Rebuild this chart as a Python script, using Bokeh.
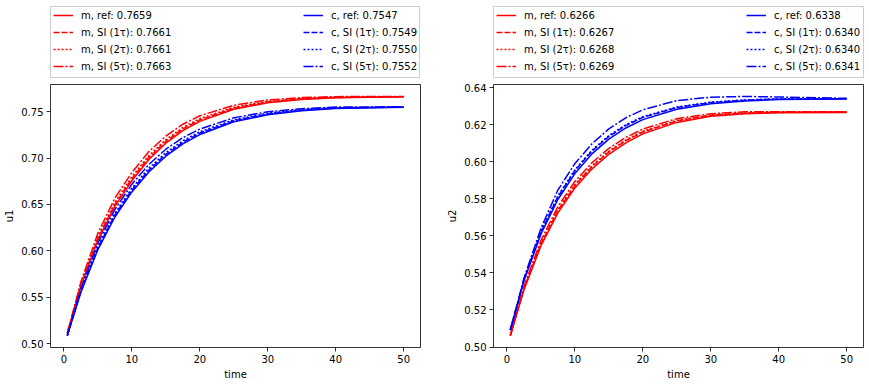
from bokeh.plotting import figure
from bokeh.models import Legend, LegendItem, FixedTicker, Range1d, DataRange1d, NumeralTickFormatter
from bokeh.layouts import row, column
from bokeh.embed import file_html
from bokeh.resources import INLINE

# ---------------- data ----------------
time = [0.5, 2.5, 5, 7.5, 10, 12.5, 15, 17.5, 20, 25, 30, 35, 40, 50]

series = ["ref", "SI (1τ)", "SI (2τ)", "SI (5τ)"]

u1_m_ref = [0.5115, 0.5622, 0.6116, 0.6480, 0.6755, 0.6985, 0.7160, 0.7295, 0.7395, 0.7525, 0.7595, 0.7630, 0.7648, 0.7659]
u1_m_si1 = [0.5115, 0.5633, 0.6134, 0.6502, 0.6777, 0.7007, 0.7180, 0.7313, 0.7411, 0.7537, 0.7604, 0.7637, 0.7652, 0.7661]
u1_m_si2 = [0.5115, 0.5644, 0.6152, 0.6523, 0.6799, 0.7027, 0.7198, 0.7329, 0.7425, 0.7547, 0.7611, 0.7641, 0.7654, 0.7661]
u1_m_si5 = [0.5115, 0.5667, 0.6191, 0.6568, 0.6844, 0.7070, 0.7237, 0.7364, 0.7455, 0.7568, 0.7625, 0.7651, 0.7661, 0.7663]
u1_c_ref = [0.5089, 0.5555, 0.6015, 0.6365, 0.6635, 0.6850, 0.7020, 0.7152, 0.7253, 0.7390, 0.7466, 0.7508, 0.7532, 0.7547]
u1_c_si1 = [0.5089, 0.5565, 0.6032, 0.6385, 0.6656, 0.6870, 0.7039, 0.7169, 0.7269, 0.7401, 0.7475, 0.7515, 0.7538, 0.7549]
u1_c_si2 = [0.5089, 0.5574, 0.6048, 0.6404, 0.6677, 0.6890, 0.7058, 0.7186, 0.7283, 0.7412, 0.7483, 0.7521, 0.7541, 0.7550]
u1_c_si5 = [0.5089, 0.5595, 0.6084, 0.6446, 0.6719, 0.6931, 0.7095, 0.7219, 0.7312, 0.7433, 0.7498, 0.7531, 0.7549, 0.7552]

u2_m_ref = [0.5062, 0.5308, 0.5545, 0.5724, 0.5858, 0.5960, 0.6040, 0.6102, 0.6150, 0.6212, 0.6245, 0.6259, 0.6264, 0.6266]
u2_m_si1 = [0.5062, 0.5314, 0.5555, 0.5736, 0.5871, 0.5973, 0.6052, 0.6113, 0.6160, 0.6220, 0.6250, 0.6262, 0.6266, 0.6267]
u2_m_si2 = [0.5062, 0.5317, 0.5560, 0.5741, 0.5876, 0.5978, 0.6057, 0.6118, 0.6164, 0.6223, 0.6252, 0.6263, 0.6267, 0.6268]
u2_m_si5 = [0.5062, 0.5326, 0.5575, 0.5758, 0.5893, 0.5994, 0.6072, 0.6131, 0.6176, 0.6232, 0.6259, 0.6269, 0.6270, 0.6269]
u2_c_ref = [0.5092, 0.5356, 0.5609, 0.5796, 0.5936, 0.6042, 0.6122, 0.6182, 0.6227, 0.6283, 0.6313, 0.6328, 0.6335, 0.6338]
u2_c_si1 = [0.5092, 0.5362, 0.5620, 0.5810, 0.5951, 0.6057, 0.6136, 0.6195, 0.6239, 0.6292, 0.6319, 0.6332, 0.6338, 0.6340]
u2_c_si2 = [0.5092, 0.5365, 0.5625, 0.5815, 0.5956, 0.6062, 0.6141, 0.6200, 0.6243, 0.6295, 0.6321, 0.6333, 0.6339, 0.6340]
u2_c_si5 = [0.5092, 0.5370, 0.5640, 0.5847, 0.5990, 0.6096, 0.6177, 0.6237, 0.6280, 0.6330, 0.6348, 0.6352, 0.6349, 0.6342]

u1_m_final = ["0.7659", "0.7661", "0.7661", "0.7663"]
u1_c_final = ["0.7547", "0.7549", "0.7550", "0.7552"]
u2_m_final = ["0.6266", "0.6267", "0.6268", "0.6269"]
u2_c_final = ["0.6338", "0.6340", "0.6340", "0.6341"]

x_ticks = [0, 10, 20, 30, 40, 50]
u1_ticks = [0.50, 0.55, 0.60, 0.65, 0.70, 0.75]
u2_ticks = [0.50, 0.52, 0.54, 0.56, 0.58, 0.60, 0.62, 0.64]

# ---------------- styles ----------------
DASHES = ["solid", "6 2", "2 2", "10 2 2 2"]
RED = "#ff0000"
BLUE = "#0000ff"
FONT = "DejaVu Sans"
LW = 1.5


def legend_fig(m_list, c_list, m_final, c_final, left, fw, right):
    # small panel whose frame is the legend box; the sample lines hold the
    # real series but lie outside this panel's x range, so only the legend shows
    lf = figure(frame_width=fw, frame_height=72, min_border_left=left, min_border_right=right,
                min_border_top=6, min_border_bottom=0, x_axis_type=None, y_axis_type=None,
                x_range=Range1d(-1000, -999), y_range=Range1d(0, 1),
                toolbar_location=None, output_backend="svg")
    lf.outline_line_color = "#cccccc"
    lf.outline_line_width = 1
    m_items, c_items = [], []
    for ys, name, val, dash in zip(m_list, series, m_final, DASHES):
        r = lf.line(time, ys, line_color=RED, line_width=LW, line_dash=dash)
        m_items.append(LegendItem(label=f"m, {name}: {val}", renderers=[r]))
    for ys, name, val, dash in zip(c_list, series, c_final, DASHES):
        r = lf.line(time, ys, line_color=BLUE, line_width=LW, line_dash=dash)
        c_items.append(LegendItem(label=f"c, {name}: {val}", renderers=[r]))
    for items, x0 in ((m_items, 3), (c_items, 253)):
        lg = Legend(items=items, location=(x0, 5), orientation="vertical",
                    glyph_width=20, glyph_height=14, label_height=14, label_standoff=8,
                    spacing=3, padding=0, margin=0,
                    border_line_alpha=0, background_fill_alpha=0,
                    label_text_font=FONT, label_text_font_size="10px",
                    label_text_color="black")
        lf.add_layout(lg)
    return lf


def main_fig(m_list, c_list, y_ticks, ylabel, left, fw, right):
    p = figure(frame_width=fw, frame_height=263, min_border_left=left, min_border_right=right,
               min_border_top=6, min_border_bottom=34,
               x_range=DataRange1d(range_padding=0.1), y_range=DataRange1d(range_padding=0.1),
               toolbar_location=None, output_backend="svg")
    p.xgrid.visible = False
    p.ygrid.visible = False
    p.outline_line_color = "black"
    p.outline_line_width = 0.8
    for ys, dash in zip(m_list, DASHES):
        p.line(time, ys, line_color=RED, line_width=LW, line_dash=dash)
    for ys, dash in zip(c_list, DASHES):
        p.line(time, ys, line_color=BLUE, line_width=LW, line_dash=dash)
    p.xaxis.ticker = FixedTicker(ticks=x_ticks)
    p.yaxis.ticker = FixedTicker(ticks=y_ticks)
    p.yaxis.formatter = NumeralTickFormatter(format="0.00")
    p.xaxis.axis_label = "time"
    p.yaxis.axis_label = ylabel
    for ax in (p.xaxis, p.yaxis):
        ax.axis_line_color = None
        ax.major_tick_line_color = "black"
        ax.major_tick_line_width = 0.8
        ax.major_tick_in = 0
        ax.major_tick_out = 4
        ax.minor_tick_in = 0
        ax.minor_tick_out = 0
        ax.major_label_standoff = 3
        ax.major_label_text_font = FONT
        ax.major_label_text_font_size = "10px"
        ax.major_label_text_color = "black"
        ax.axis_label_text_font = FONT
        ax.axis_label_text_font_size = "10px"
        ax.axis_label_text_font_style = "normal"
        ax.axis_label_text_color = "black"
        ax.axis_label_standoff = 3
    return p


u1_m = [u1_m_ref, u1_m_si1, u1_m_si2, u1_m_si5]
u1_c = [u1_c_ref, u1_c_si1, u1_c_si2, u1_c_si5]
u2_m = [u2_m_ref, u2_m_si1, u2_m_si2, u2_m_si5]
u2_c = [u2_c_ref, u2_c_si1, u2_c_si2, u2_c_si5]

legL = legend_fig(u1_m, u1_c, u1_m_final, u1_c_final, 50, 369, 10)
mainL = main_fig(u1_m, u1_c, u1_ticks, "u1", 49, 370, 10)
legR = legend_fig(u2_m, u2_c, u2_m_final, u2_c_final, 64, 370, 5)
mainR = main_fig(u2_m, u2_c, u2_ticks, "u2", 64, 370, 5)

p = row(column(legL, mainL), column(legR, mainR))

open("out.html", "w").write(file_html(p, INLINE))
